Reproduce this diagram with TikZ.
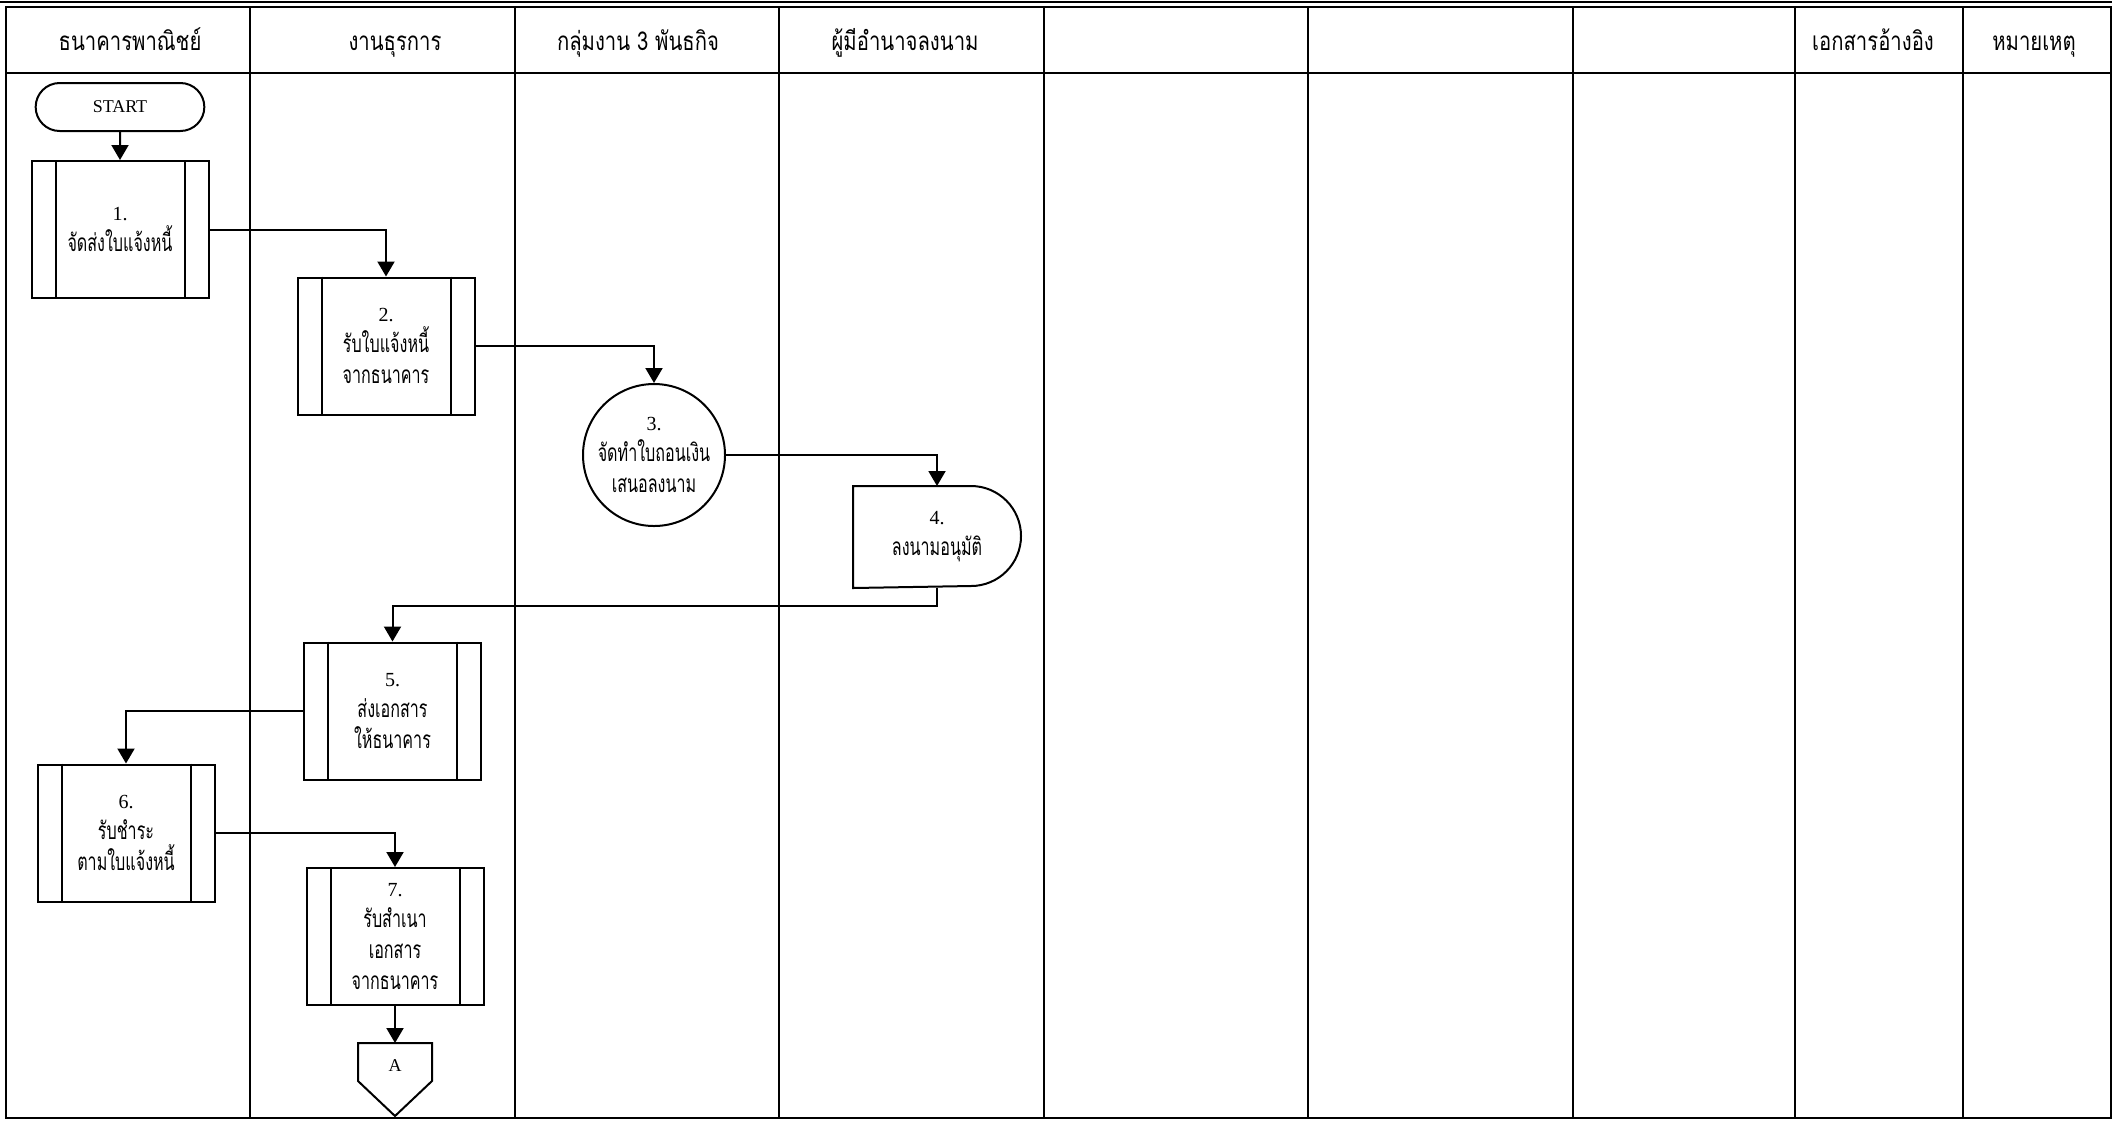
\documentclass[tikz,border=0pt]{standalone}
\usepackage{fontspec}
\setmainfont{Liberation Serif}
\newfontfamily\thaifont[Script=Thai,FakeStretch=0.66,Scale=1.22]{Loma}
\newfontfamily\headfont[Script=Thai,FakeStretch=0.78]{Loma}
\usetikzlibrary{arrows.meta,shapes.misc}

\begin{document}
\begin{tikzpicture}[x=0.5pt,y=0.5pt,yscale=-1,
  line width=1pt,
  >={Triangle[length=7.5pt,width=8.5pt]},
  flow/.style={->},
  grid/.style={line width=1.2pt},
  head/.style={anchor=base,font=\headfont\fontsize{13}{15}\selectfont},
  txt/.style={align=center,font=\fontsize{10}{15.5}\selectfont},
  proc/.style={draw,txt,minimum width=88.5pt,minimum height=68.5pt,inner sep=0pt},
  term/.style={draw,rounded rectangle,minimum width=91pt,minimum height=24pt,font=\fontsize{9}{11}\selectfont},
  work/.style={draw,circle,txt,minimum size=71pt,inner sep=-7pt},
  sign/.style={txt,minimum width=83pt,minimum height=50pt,inner sep=0pt},
  offpage/.style={minimum width=36pt,minimum height=22pt,inner sep=0pt,font=\fontsize{9}{11}\selectfont}]
\useasboundingbox (0,0) rectangle (2112,1121);
% frame and swimlanes
\draw[grid] (0,2) -- (2112,2);
\draw[grid] (6,7) rectangle (2111,1118);
\draw[grid] (6,73) -- (2111,73);
\foreach \x in {250,515,779,1044,1308,1573,1795,1963}
  \draw[grid] (\x,7) -- (\x,1118);
\node[head] (h1) at (130,50) {ธนาคารพาณิชย์};
\node[head] (h2) at (395,50) {งานธุรการ};
\node[head] (h3) at (638,50) {กลุ่มงาน 3 พันธกิจ};
\node[head] (h4) at (905,50) {ผู้มีอำนาจลงนาม};
\node[head] (h8) at (1873,50) {เอกสารอ้างอิง};
\node[head] (h9) at (2034,50) {หมายเหตุ};
% steps
\node[term] (start) at (120,107) {START};
\node[proc] (b1) at (120,229.5) {1.\\{\thaifont จัดส่งใบแจ้งหนี้}};
\node[proc] (b2) at (386,346) {2.\\{\thaifont รับใบแจ้งหนี้}\\{\thaifont จากธนาคาร}};
\node[work] (c3) at (654,455) {3.\\{\thaifont จัดทำใบถอนเงิน}\\{\thaifont เสนอลงนาม}};
\node[sign] (d4) at (937,537) {4.\\{\thaifont ลงนามอนุมัติ}};
\draw (d4.north west) -- ([xshift=-25pt]d4.north east) arc[start angle=-90,end angle=90,radius=25pt] -- (d4.south west) -- cycle;
\node[proc] (b5) at (392.5,711) {5.\\{\thaifont ส่งเอกสาร}\\{\thaifont ให้ธนาคาร}};
\node[proc] (b6) at (126,833) {6.\\{\thaifont รับชำระ}\\{\thaifont ตามใบแจ้งหนี้}};
\node[proc] (b7) at (395,936.5) {7.\\{\thaifont รับสำเนา}\\{\thaifont เอกสาร}\\{\thaifont จากธนาคาร}};
\node[offpage] (offA) at (395,1066) {A};
\draw (offA.north west) -- (offA.north east) -- ([yshift=-4pt]offA.south east) -- ([yshift=13.5pt]offA.south) -- ([yshift=-4pt]offA.south west) -- cycle;
\foreach \b in {b1,b2,b5,b6,b7} {
  \draw ([xshift=12.5pt]\b.north west) -- ([xshift=12.5pt]\b.south west);
  \draw ([xshift=-12.5pt]\b.north east) -- ([xshift=-12.5pt]\b.south east);
}
% connectors
\draw[flow] (start) -- (b1);
\draw[flow] (b1.east) -| (b2.north);
\draw[flow] (b2.east) -| (c3.north);
\draw[flow] (c3.east) -| (d4.north);
\draw[flow] (d4.south) -- ++(0,18) -| (b5.north);
\draw[flow] (b5.west) -| (b6.north);
\draw[flow] (b6.east) -| (b7.north);
\draw[flow] (b7) -- (offA);
\end{tikzpicture}
\end{document}
